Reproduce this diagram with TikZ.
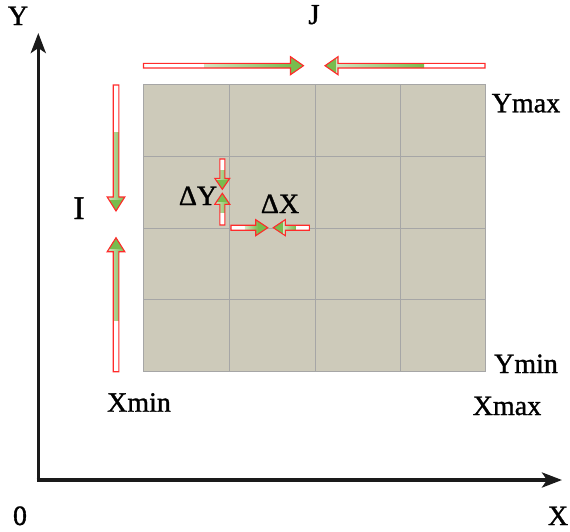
\documentclass[tikz,border=0pt]{standalone}
\usepackage{fontspec}
\setmainfont[FakeBold=1.2]{Liberation Serif}
\usetikzlibrary{arrows.meta}
\definecolor{gridfill}{HTML}{CDCABA}
\definecolor{gridline}{HTML}{A6A6A6}
\definecolor{arrgreen}{HTML}{78BC4E}
\definecolor{arrlight}{HTML}{D2E4C2}
\definecolor{arrred}{HTML}{FF2A2A}
\definecolor{axiscol}{HTML}{1A1A1A}
% block arrow: #1 start point, #2 angle, #3 length, #4 shaft half width, #5 head half width, #6 head length
\newcommand\blockarrow[6]{%
  \begin{scope}[shift={#1},rotate=#2]
    \path[fill=white] (0,-#4) -- ({#3-#6},-#4) -- ({#3-#6},-#5) -- (#3,0) -- ({#3-#6},#5) -- ({#3-#6},#4) -- (0,#4) -- cycle;
    \begin{scope}
      \clip (0,-#4) -- ({#3-#6},-#4) -- ({#3-#6},-#5) -- (#3,0) -- ({#3-#6},#5) -- ({#3-#6},#4) -- (0,#4) -- cycle;
      \shade[left color=arrlight,right color=arrgreen] ({0.38*#3},-#5) rectangle ({#3-0.8*#6},#5);
      \fill[arrgreen] ({#3-0.8*#6-0.2},-#5) rectangle (#3,#5);
    \end{scope}
    \draw[arrred,line width=1.1pt,line join=miter] (0,-#4) -- ({#3-#6},-#4) -- ({#3-#6},-#5) -- (#3,0) -- ({#3-#6},#5) -- ({#3-#6},#4) -- (0,#4) -- cycle;
  \end{scope}}
\tikzset{
  lbl/.style={anchor=base,inner sep=0pt,font=\fontsize{28}{30}\selectfont},
  axisline/.style={axiscol,line width=3.6pt,line cap=butt,-{Stealth[length=20pt,width=15pt,inset=5pt]}},
}
\begin{document}
\begin{tikzpicture}[x=1pt,y=-1pt]
\useasboundingbox (0,0) rectangle (570,531);
% grid
\fill[gridfill] (143.5,84.5) rectangle (485.5,371);
\draw[gridline,line width=1pt] (143.5,84.5) rectangle (485.5,371);
\foreach \gx in {229,315,400} \draw[gridline,line width=0.9pt] (\gx,84.5) -- (\gx,371);
\foreach \gy in {156.5,228,299.5} \draw[gridline,line width=0.9pt] (143.5,\gy) -- (485.5,\gy);
% axes
\coordinate (O) at (38.3,480);
\coordinate (ytip) at (38.3,33);
\coordinate (xtip) at (562,480);
\draw[axisline] ([yshift=-1.8pt]O) -- (ytip);
\draw[axisline] ([xshift=-1.8pt]O) -- (xtip);
% block arrows
\blockarrow{(143.5,65.7)}{0}{160}{2.3}{9}{13}
\blockarrow{(485,65.7)}{180}{160}{2.3}{9}{13}
\blockarrow{(116,85)}{-90}{126}{2.8}{8.8}{14}
\blockarrow{(116,371.7)}{90}{134}{2.8}{8.8}{14}
\blockarrow{(222.3,159)}{-90}{30.3}{2.5}{7.5}{11}
\blockarrow{(222.3,225)}{90}{31.7}{2.5}{7.5}{11}
\blockarrow{(231,227.7)}{0}{36.7}{2.5}{8}{12}
\blockarrow{(309.3,227.7)}{180}{36}{2.5}{8}{12}
% labels
\node[lbl] (lY) at (18,25) {Y};
\node[lbl,font=\fontsize{29}{32}\selectfont] (lJ) at (314,24) {J};
\node[lbl] (lYmax) at (526,112.3) {Ymax};
\node[lbl,font=\fontsize{33}{36}\selectfont] (lI) at (79,219) {I};
\node[lbl] (ldY) at (198,205) {ΔY};
\node[lbl] (ldX) at (280,213) {ΔX};
\node[lbl] (lYmin) at (526,373) {Ymin};
\node[lbl] (lXmin) at (139,411.7) {Xmin};
\node[lbl] (lXmax) at (507,415) {Xmax};
\node[lbl] (l0) at (20,525) {0};
\node[lbl] (lX) at (558,525) {X};
\end{tikzpicture}
\end{document}
